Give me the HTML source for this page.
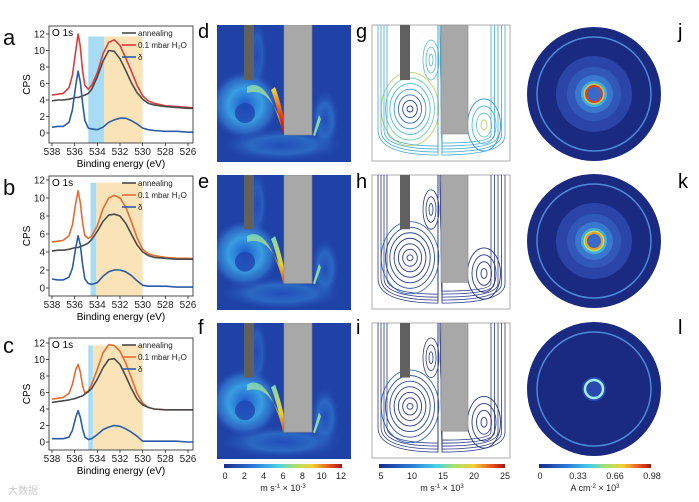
<!DOCTYPE html>
<html><head><meta charset="utf-8">
<style>
body{margin:0;background:#fff;}
svg{display:block;font-family:"Liberation Sans",sans-serif;}
</style></head>
<body>
<svg id="fig" width="699" height="502" viewBox="0 0 699 502" xmlns="http://www.w3.org/2000/svg">
<defs id="defs">
<linearGradient id="jet" x1="0" x2="1" y1="0" y2="0">
<stop offset="0" stop-color="#1a2a8c"/><stop offset="0.25" stop-color="#2a7bd6"/><stop offset="0.45" stop-color="#45d0e8"/><stop offset="0.6" stop-color="#a8e070"/><stop offset="0.75" stop-color="#f5d030"/><stop offset="0.9" stop-color="#e85020"/><stop offset="1" stop-color="#a01818"/>
</linearGradient>
<radialGradient id="blob" cx="0.5" cy="0.5" r="0.5"><stop offset="0" stop-color="#1f55c8" stop-opacity="1"/><stop offset="0.5" stop-color="#3aa8e8" stop-opacity="0.9"/><stop offset="0.8" stop-color="#3a8ee0" stop-opacity="0.5"/><stop offset="1" stop-color="#2a55c0" stop-opacity="0"/></radialGradient>
<radialGradient id="blob2" cx="0.5" cy="0.5" r="0.5"><stop offset="0" stop-color="#2350c0"/><stop offset="0.55" stop-color="#3386d8" stop-opacity="0.8"/><stop offset="1" stop-color="#2a55c0" stop-opacity="0"/></radialGradient>
<linearGradient id="hot" x1="0" x2="0" y1="0" y2="1"><stop offset="0" stop-color="#e8e040"/><stop offset="0.6" stop-color="#e83a18"/><stop offset="1" stop-color="#a01010"/></linearGradient>
<linearGradient id="hot2" x1="0" x2="0" y1="0" y2="1"><stop offset="0" stop-color="#7ad8c0"/><stop offset="0.6" stop-color="#e8d030"/><stop offset="1" stop-color="#e04818"/></linearGradient>
</defs>
<g id="xps"></g>
<g id="heat"></g>
<g id="stream"></g>
<g id="disc"></g>
<g id="cbars"></g>
</svg>
<script>
const NS="http://www.w3.org/2000/svg";
function mk(p,t,a,txt){const e=document.createElementNS(NS,t);for(const k in a)e.setAttribute(k,a[k]);if(txt!==undefined)e.textContent=txt;p.appendChild(e);return e;}
const defs=document.getElementById('defs');
let clipN=0;
function clip(x,y,w,h){const id='c'+(clipN++);const c=mk(defs,'clipPath',{id});mk(c,'rect',{x,y,width:w,height:h});return 'url(#'+id+')';}

// ---- XPS data ----
const energies=[538,537.5,537,536.5,536.2,535.9,535.7,535.5,535.3,535.1,534.8,534.5,534,533.5,533,532.5,532,531.5,531,530.5,530,529.5,529,528,527,526,525];
const annA=[3.9,4.0,4.0,4.1,4.2,4.3,4.3,4.4,4.5,4.6,4.8,5.3,6.8,8.7,10.0,9.9,9.0,7.6,6.1,4.9,4.1,3.6,3.4,3.2,3.1,3.0,3.0];
const h2oA=[4.6,4.7,4.8,5.5,7.0,10.0,12.0,10.5,7.5,5.8,5.3,5.8,7.3,9.6,11.0,11.3,10.6,9.1,7.5,5.8,4.5,3.9,3.6,3.3,3.2,3.1,3.0];
const delA=[0.7,0.8,0.8,1.3,2.8,5.8,7.5,6.2,3.6,1.5,0.6,0.5,0.4,0.7,1.3,1.6,1.8,1.8,1.5,1.1,0.6,0.4,0.3,0.2,0.2,0.1,0.1];
const annB=[4.1,4.2,4.2,4.3,4.4,4.5,4.5,4.6,4.7,4.8,5.0,5.4,6.3,7.4,8.1,8.2,8.0,7.2,6.0,4.8,4.0,3.6,3.4,3.3,3.2,3.2,3.2];
const h2oB=[5.1,5.2,5.3,5.8,7.0,9.5,10.8,9.5,7.2,5.8,5.5,5.8,6.9,8.8,10.0,10.3,10.0,9.0,7.4,5.6,4.3,3.8,3.6,3.4,3.3,3.3,3.2];
const delB=[1.0,0.9,0.9,1.2,2.2,4.5,5.8,4.8,2.6,1.0,0.5,0.4,0.6,1.3,1.8,2.0,2.0,1.8,1.4,0.8,0.3,0.2,0.2,0.2,0.1,0.1,0.1];
const annC=[4.8,4.9,5.0,5.1,5.2,5.3,5.4,5.5,5.6,5.8,6.1,6.5,7.6,9.0,10.0,10.1,9.4,8.0,6.5,5.2,4.5,4.2,4.0,3.9,3.9,3.9,3.9];
const h2oC=[5.2,5.3,5.4,5.9,7.0,8.8,9.4,8.5,6.8,5.9,6.2,7.0,8.8,10.8,11.8,11.7,11.0,9.6,7.8,5.9,4.7,4.2,4.0,3.9,3.9,3.9,3.9];
const delC=[0.4,0.4,0.4,0.6,1.4,3.0,3.8,3.0,1.6,0.6,0.3,0.4,0.9,1.5,1.8,2.0,1.9,1.6,1.2,0.7,0.1,0.1,0.1,0.1,0.1,0.0,0.0];
const xTicks=[538,536,534,532,530,528,526];
const yTicks=[0,2,4,6,8,10,12];
const panels=[
 {lab:"a",top:26,bot:143,y0:133,y12:34,ann:annA,h2o:h2oA,del:delA,blue:[534.8,533.4],orange:[533.4,530],h2ocol:"#e03a3a",labY:45},
 {lab:"b",top:176,bot:296,y0:288,y12:180,ann:annB,h2o:h2oB,del:delB,blue:[534.6,534.1],orange:[534.1,530],h2ocol:"#e86a30",labY:195},
 {lab:"c",top:338,bot:450,y0:442,y12:343,ann:annC,h2o:h2oC,del:delC,blue:[534.8,534.4],orange:[534.4,530],h2ocol:"#e86a30",labY:353}
];
const xps=document.getElementById('xps');
panels.forEach(p=>{
 const xl=49,xr=193;
 const X=e=>52+(538-e)*(188-52)/12;
 const Y=v=>p.y0+(p.y12-p.y0)*v/12;
 const g=mk(xps,'g',{});
 
 
 const inner=mk(g,'g',{'clip-path':clip(xl,p.top,xr-xl,p.bot-p.top)});
 const ob=mk(inner,'rect',{x:X(p.orange[0]),y:Y(11.7),width:X(p.orange[1])-X(p.orange[0]),height:p.bot-Y(11.7),fill:'#fbe3b8'});
 
 const bb=mk(inner,'rect',{x:X(p.blue[0]),y:Y(11.7),width:X(p.blue[1])-X(p.blue[0]),height:p.bot-Y(11.7),fill:'#a8dcf5'});
 
 const line=(arr,col,nm)=>{const pts=energies.map((e,i)=>X(e).toFixed(1)+','+Y(arr[i]).toFixed(1)).join(' ');const l=mk(inner,'polyline',{points:pts,fill:'none',stroke:col,'stroke-width':1.6,'stroke-linejoin':'round'});};
 line(p.h2o,p.h2ocol,'h2o-line');line(p.ann,'#4a4a4a','annealing-line');line(p.del,'#2a5caa','delta-line');
 mk(g,'rect',{x:xl,y:p.top,width:xr-xl,height:p.bot-p.top,fill:'none',stroke:'#222','stroke-width':0.8});
 xTicks.forEach(t=>{mk(g,'line',{x1:X(t),x2:X(t),y1:p.bot,y2:p.bot+3,stroke:'#222','stroke-width':0.8});const tx=mk(g,'text',{x:X(t),y:p.bot+12,'font-size':10,'text-anchor':'middle',fill:'#222'},t);});
 yTicks.forEach(t=>{if(Y(t)<p.top-1)return;mk(g,'line',{x1:xl-3,x2:xl,y1:Y(t),y2:Y(t),stroke:'#222','stroke-width':0.8});const tx=mk(g,'text',{x:xl-4,y:Y(t)+3.5,'font-size':10,'text-anchor':'end',fill:'#222'},t);});
 const yt=mk(g,'text',{x:30,y:(p.top+p.bot)/2,'font-size':10,'text-anchor':'middle',transform:`rotate(-90 30 ${(p.top+p.bot)/2})`},'CPS');
 const xt=mk(g,'text',{x:121,y:p.bot+24,'font-size':10,'text-anchor':'middle'},'Binding energy (eV)');
 const pl=mk(g,'text',{x:3,y:p.labY,'font-size':22,fill:'#111'},p.lab);
 mk(g,'text',{x:52,y:p.top+10,'font-size':10},'O 1s');
 const lg=mk(g,'g',{});
 [['annealing','#4a4a4a'],['0.1 mbar H₂O',p.h2ocol],['δ','#2a5caa']].forEach((L,i)=>{const ly=p.top+7+i*12;mk(lg,'line',{x1:122,x2:136,y1:ly,y2:ly,stroke:L[1],'stroke-width':1.6});mk(lg,'text',{x:138,y:ly+3,'font-size':8,fill:'#222'},L[0]);});
});

// ---- heatmaps d,e,f ----
const heat=document.getElementById('heat');
const hp=[{l:'d',y:25,h:137,ly:38,hot:1},{l:'e',y:175,h:135,ly:188,hot:0.8},{l:'f',y:323,h:136,ly:334,hot:0.6}];
hp.forEach(p=>{
 const x=217,w=134,y=p.y,h=p.h,s=h/137;
 const g=mk(heat,'g',{'clip-path':clip(x,y,w,h)});
 mk(g,'rect',{x,y,width:w,height:h,fill:'#1f42a8'});
 mk(g,'ellipse',{cx:x+28,cy:y+80*s,rx:34,ry:34*s,fill:'url(#blob)'});
 mk(g,'ellipse',{cx:x+65,cy:y+120*s,rx:60,ry:16*s,fill:'url(#blob2)',opacity:0.7});
 mk(g,'ellipse',{cx:x+108,cy:y+95*s,rx:14,ry:30*s,fill:'url(#blob2)',opacity:0.7});
 mk(g,'ellipse',{cx:x+40,cy:y+30*s,rx:10,ry:35*s,fill:'url(#blob2)',opacity:0.5});
 mk(g,'ellipse',{cx:x+28,cy:y+88*s,rx:10,ry:10*s,fill:'#1f45b0',opacity:0.8});
 mk(g,'path',{d:`M${x+30} ${y+62*s} Q${x+50} ${y+50*s} ${x+66} ${y+108*s} L${x+68} ${y+110*s} Q${x+55} ${y+60*s} ${x+30} ${y+68*s}Z`,fill:'url(#hot2)',opacity:0.9});
 mk(g,'path',{d:`M${x+54} ${y+65*s} Q${x+60} ${y+80*s} ${x+66} ${y+110*s} L${x+70} ${y+110*s} Q${x+65} ${y+80*s} ${x+58} ${y+62*s}Z`,fill:p.hot>0.9?'url(#hot)':'url(#hot2)'});
 mk(g,'path',{d:`M${x+96} ${y+110*s} L${x+102} ${y+90*s} L${x+104} ${y+94*s} L${x+98} ${y+111*s}Z`,fill:'#8ad8a8'});
 mk(g,'rect',{x:x+27,y,width:10,height:55*s,fill:'#606060'});
 mk(g,'rect',{x:x+67,y,width:28,height:110*s,fill:'#a8a8a8',stroke:'#888','stroke-width':0.6});
 const t=mk(heat,'text',{x:198,y:p.ly,'font-size':20},p.l);
});

// ---- streamlines g,h,i ----
const st=document.getElementById('stream');
const sp=[{l:'g',y:25,h:136,ly:38,c:1},{l:'h',y:175,h:134,ly:188,c:0},{l:'i',y:323,h:135,ly:334,c:0}];
sp.forEach(p=>{
 const x=372,w=138,y=p.y,s=p.h/136;
 const g0=mk(st,'g',{});
 mk(g0,'rect',{x,y,width:w,height:p.h,fill:'#fff',stroke:'#999','stroke-width':0.8});
 const g=mk(g0,'g',{'clip-path':clip(x,y,w,p.h)});
 const cols=p.c?['#2a3a9a','#2a4aa8','#3a6ac8','#3a9ad8','#4ac0d8','#70d0b0','#c0d060','#e08040']:['#2a3a8a','#2a3a8a','#2a3a8a','#2a3a8a','#2a4a9a','#2a4a9a','#3a6ab8','#3a8ac0'];
 for(let i=0;i<7;i++){mk(g,'ellipse',{cx:x+38,cy:y+84*s,rx:3+i*4.3,ry:(3+i*5.6)*s,fill:'none',stroke:cols[i],'stroke-width':0.9});}
 for(let i=0;i<4;i++){mk(g,'ellipse',{cx:x+112,cy:y+100*s,rx:3+i*4.5,ry:(5+i*7)*s,fill:'none',stroke:p.c?cols[6-i]:'#2a3a8a','stroke-width':0.9});}
 for(let i=0;i<3;i++){mk(g,'ellipse',{cx:x+59,cy:y+35*s,rx:2+i*3,ry:(6+i*7)*s,fill:'none',stroke:p.c?'#50b8d8':'#2a3a8a','stroke-width':0.8});}
 for(let i=0;i<4;i++){const xx=x+6+i*3;mk(g,'path',{d:`M${xx} ${y} L${xx} ${y+105*s} Q${xx} ${y+130*s-i*3} ${x+66} ${y+130*s-i*3} L${x+66} ${y}`,fill:'none',stroke:p.c?'#40a8d8':'#2a3a8a','stroke-width':0.8});}
 for(let i=0;i<5;i++){const xx=x+w-5-i*3.5;mk(g,'path',{d:`M${xx} ${y} L${xx} ${y+110*s} Q${xx} ${y+130*s-i*3} ${x+70} ${y+130*s-i*3} L${x+68} ${y}`,fill:'none',stroke:p.c?'#40a8d8':'#2a3a8a','stroke-width':0.8});}
 mk(g,'rect',{x:x+28,y,width:10,height:55*s,fill:'#606060'});
 mk(g,'rect',{x:x+69,y,width:27,height:109*s,fill:'#a8a8a8',stroke:'#888','stroke-width':0.6});
 const t=mk(st,'text',{x:356,y:p.ly,'font-size':20},p.l);
});

// ---- discs j,k,l ----
const dc=document.getElementById('disc');
const dp=[{l:'j',cy:94,ly:38,hot:'#e04010',hot2:'#f0c020'},{l:'k',cy:241,ly:188,hot:'#e8a020',hot2:'#f0d830'},{l:'l',cy:389,ly:334,hot:'#a0f0f0',hot2:'#70d8f0'}];
dp.forEach(p=>{
 const g=mk(dc,'g',{});
 const cx=594,cy=p.cy;
 mk(g,'circle',{cx,cy,r:67,fill:'#1a2a80'});
 mk(g,'circle',{cx,cy,r:57,fill:'none',stroke:'#4a8ad8','stroke-width':1.5});
 if(p.l==='l'){mk(g,'circle',{cx,cy,r:12,fill:'#2a4ab0'});mk(g,'circle',{cx,cy,r:9,fill:'none',stroke:'#a0f0f0','stroke-width':2.5});}
 else{
 mk(g,'circle',{cx,cy,r:38,fill:'#2b44a8'});
 mk(g,'circle',{cx,cy,r:27,fill:'#3158b8'});
 mk(g,'circle',{cx,cy,r:19,fill:'#3a78d0'});
 mk(g,'circle',{cx,cy,r:13,fill:'#40b0e0'});
 mk(g,'circle',{cx,cy,r:10,fill:'#70e0d0'});
 mk(g,'circle',{cx,cy,r:8,fill:'#3a6ac8',stroke:p.hot,'stroke-width':2});
 mk(g,'circle',{cx,cy,r:10,fill:'none',stroke:p.hot2,'stroke-width':1});
 }
 const t=mk(g,'text',{x:678,y:p.ly,'font-size':20},p.l);
});

// ---- colorbars ----
const cbTicks1=[0,2,4,6,8,10,12];
const cbTicks2=[5,10,15,20,25];
const cbTicks3=['0','0.33','0.66','0.98'];
const cb=document.getElementById('cbars');
function bar(x0,x1,ticks,tp,unit,nm){
 const g=mk(cb,'g',{});
 mk(g,'rect',{x:x0,y:464,width:x1-x0,height:4,fill:'url(#jet)'});
 ticks.forEach((t,i)=>{const xx=tp(i);mk(g,'text',{x:xx,y:479,'font-size':9,'text-anchor':'middle',fill:'#222'},t);});
 const u=mk(g,'text',{x:(x0+x1)/2,y:491,'font-size':9,'text-anchor':'middle',fill:'#222'});u.innerHTML=unit;
}
bar(224,342,cbTicks1,i=>225+i*(341-225)/6,'m s<tspan font-size="6" dy="-3">-1</tspan><tspan dy="3"> × 10</tspan><tspan font-size="6" dy="-3">-3</tspan>','colorbar-velocity-1');
bar(379,505,cbTicks2,i=>381+i*(505-381)/4,'m s<tspan font-size="6" dy="-3">-1</tspan><tspan dy="3"> × 10</tspan><tspan font-size="6" dy="-3">3</tspan>','colorbar-velocity-2');
bar(539,651,cbTicks3,i=>[540,578,615,652][i],'A cm<tspan font-size="6" dy="-3">-2</tspan><tspan dy="3"> × 10</tspan><tspan font-size="6" dy="-3">3</tspan>','colorbar-current-density');
const wm=mk(cb,'text',{x:8,y:494,'font-size':10,fill:'#ccc'},'大数据');
</script>
</body></html>
